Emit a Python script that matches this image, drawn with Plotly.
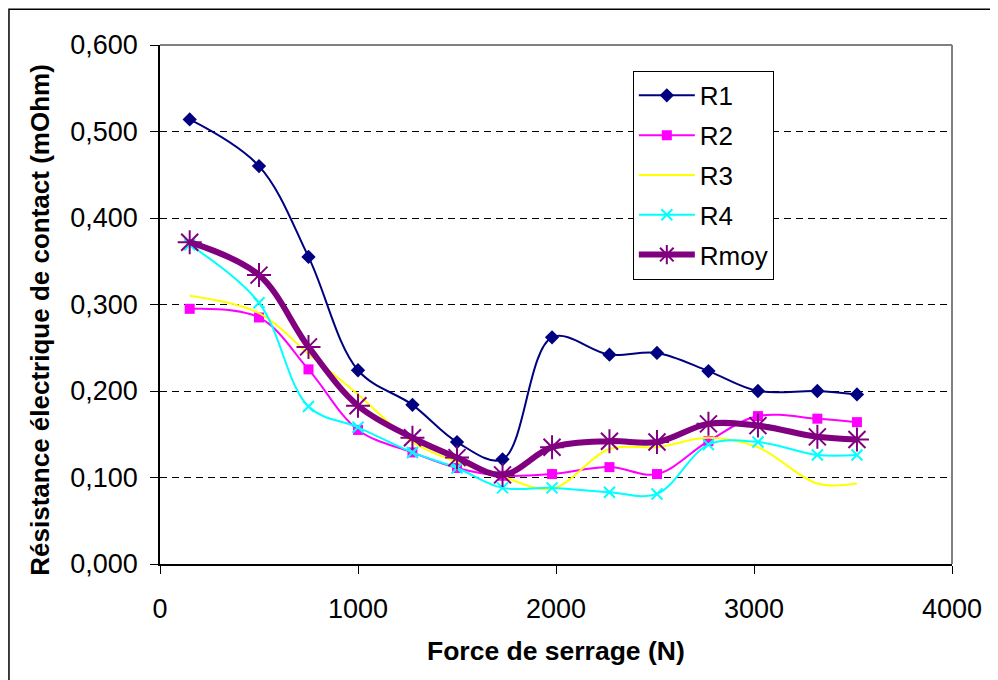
import plotly.graph_objects as go

force = [150, 500, 750, 1000, 1275, 1500, 1730, 1980, 2270, 2510, 2770, 3020, 3320, 3520]
r1 = [0.514, 0.460, 0.355, 0.224, 0.184, 0.141, 0.121, 0.262, 0.242, 0.244, 0.223, 0.200, 0.200, 0.196]
r2 = [0.295, 0.285, 0.225, 0.155, 0.129, 0.111, 0.102, 0.104, 0.112, 0.104, 0.142, 0.171, 0.168, 0.164]
r3 = [0.310, 0.290, 0.243, 0.196, 0.141, 0.118, 0.101, 0.087, 0.133, 0.135, 0.146, 0.135, 0.093, 0.093]
r4 = [0.369, 0.302, 0.182, 0.158, 0.129, 0.111, 0.088, 0.088, 0.083, 0.081, 0.138, 0.141, 0.126, 0.126]
rmoy = [0.372, 0.334, 0.251, 0.183, 0.146, 0.123, 0.103, 0.135, 0.142, 0.141, 0.162, 0.160, 0.147, 0.144]

y_ticks = [0.0, 0.1, 0.2, 0.3, 0.4, 0.5, 0.6]
x_ticks = [0, 1000, 2000, 3000, 4000]

FONT = "Arial, Liberation Sans, sans-serif"

series = [
    ("R1", r1, "#000080", 2, {"symbol": "diamond", "size": 11, "color": "#000080"}, "lines+markers"),
    ("R2", r2, "#FF00FF", 2, {"symbol": "square", "size": 10, "color": "#FF00FF"}, "lines+markers"),
    ("R3", r3, "#FFFF00", 2, None, "lines"),
    ("R4", r4, "#00FFFF", 2, {"symbol": "x-thin-open", "size": 11, "color": "#00FFFF",
                               "line": {"color": "#00FFFF", "width": 2}}, "lines+markers"),
    ("Rmoy", rmoy, "#800080", 6, {"symbol": "asterisk-open", "size": 20, "color": "#800080",
                                   "line": {"color": "#800080", "width": 2}}, "lines+markers"),
]

fig = go.Figure()
for name, vals, color, width, marker, mode in series:
    kw = {"marker": marker} if marker else {}
    fig.add_trace(go.Scatter(
        x=force, y=vals, name=name, mode=mode, legendgroup=name,
        line={"color": color, "width": width, "shape": "spline", "smoothing": 1},
        **kw,
    ))

# page body has an 8px margin, so the figure is 990x672 and sits at (8, 8)
fig.update_layout(
    width=990, height=672,
    margin={"l": 152, "r": 46, "t": 37, "b": 116},
    paper_bgcolor="white", plot_bgcolor="white",
    font={"family": FONT, "size": 27, "color": "black"},
    separators=", ",
    showlegend=True,
    legend={
        "x": 0.597, "y": 0.95, "xanchor": "left", "yanchor": "top",
        "bgcolor": "white", "bordercolor": "black", "borderwidth": 1,
        "font": {"size": 26}, "tracegroupgap": 3, "traceorder": "grouped",
        "itemwidth": 56,
    },
    xaxis={
        "range": [0, 4000], "tickvals": x_ticks, "tickformat": "d",
        "showgrid": False, "zeroline": False,
        "showline": True, "linecolor": "black", "linewidth": 1.5,
        "ticks": "outside", "ticklen": 8, "tickcolor": "black",
        "ticklabelstandoff": 12,
    },
    yaxis={
        "range": [0, 0.6], "tickvals": y_ticks, "tickformat": ".3f",
        "showgrid": True, "gridcolor": "black", "gridwidth": 1, "griddash": "7px,5px",
        "zeroline": False,
        "showline": True, "linecolor": "black", "linewidth": 1.5,
        "ticks": "outside", "ticklen": 8, "tickcolor": "black",
        "ticklabelstandoff": 7,
    },
    shapes=[
        {"type": "line", "xref": "paper", "yref": "paper", "x0": 0, "x1": 1, "y0": 1, "y1": 1,
         "line": {"color": "#808080", "width": 2}},
        {"type": "line", "xref": "paper", "yref": "paper", "x0": 1, "x1": 1, "y0": 0, "y1": 1,
         "line": {"color": "#808080", "width": 2}},
        {"type": "rect", "xref": "paper", "yref": "paper",
         "x0": -0.1907, "x1": 1.2, "y0": -0.4, "y1": 1.069,
         "line": {"color": "black", "width": 1.5}},
    ],
    annotations=[
        {"text": "<b>Force de serrage (N)</b>", "xref": "paper", "yref": "paper",
         "x": 0.5, "y": -0.168, "xanchor": "center", "yanchor": "middle",
         "showarrow": False, "font": {"size": 26.5}},
        {"text": "<b>Résistance électrique de contact (mOhm)</b>", "xref": "paper", "yref": "paper",
         "x": -0.152, "y": 0.47, "xanchor": "center", "yanchor": "middle", "textangle": -90,
         "showarrow": False, "font": {"size": 26}},
    ],
)

fig.write_html("out.html")
